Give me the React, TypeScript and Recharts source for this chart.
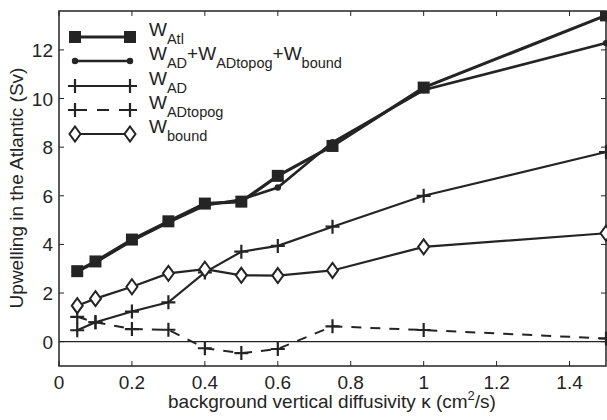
import React from "react";
import {
	Legend,
	Line,
	LineChart,
	ReferenceArea,
	ReferenceLine,
	XAxis,
	YAxis,
} from "recharts";

// values
const kappa = [0.05, 0.1, 0.2, 0.3, 0.4, 0.5, 0.6, 0.75, 1, 1.5];
const wAtl = [2.9, 3.3, 4.2, 4.95, 5.68, 5.76, 6.82, 8.05, 10.45, 13.42];
const wSum = [2.88, 3.25, 4.15, 4.9, 5.6, 5.85, 6.34, 8.2, 10.35, 12.28];
const wAD = [0.47, 0.8, 1.24, 1.62, 2.85, 3.7, 3.94, 4.73, 6.0, 7.8];
const wTopog = [1.02, 0.8, 0.52, 0.49, -0.27, -0.47, -0.3, 0.63, 0.48, 0.13];
const wBound = [1.48, 1.77, 2.26, 2.81, 2.98, 2.73, 2.72, 2.93, 3.9, 4.46];

const xTicks = [0, 0.2, 0.4, 0.6, 0.8, 1, 1.2, 1.4];
const yTicks = [0, 2, 4, 6, 8, 10, 12];

const data = kappa.map((k, i) => ({
	k,
	atl: wAtl[i],
	sum: wSum[i],
	ad: wAD[i],
	topog: wTopog[i],
	bound: wBound[i],
}));

const INK = "#242424";
const FONT = "'Liberation Sans', Arial, sans-serif";
const W = 607;
const H = 420;
const PLOT_LEFT = 59;
const PLOT_RIGHT = 606;
const PLOT_TOP = 11;
const PLOT_BOTTOM = 366;
const TICK = 5;

// marker shapes
const square = (cx: number, cy: number, key?: any) => (
	<rect key={key} x={cx - 6} y={cy - 6} width={12} height={12} fill={INK} />
);
const smallDot = (cx: number, cy: number, key?: any) => (
	<circle key={key} cx={cx} cy={cy} r={3.2} fill={INK} />
);
const plus = (cx: number, cy: number, key?: any) => (
	<path
		key={key}
		d={`M${cx - 7},${cy}H${cx + 7}M${cx},${cy - 7}V${cy + 7}`}
		stroke={INK}
		strokeWidth={2.2}
		fill="none"
	/>
);
const diamond = (cx: number, cy: number, key?: any) => (
	<path
		key={key}
		d={`M${cx},${cy - 7.5}L${cx + 5.5},${cy}L${cx},${cy + 7.5}L${cx - 5.5},${cy}Z`}
		stroke={INK}
		strokeWidth={2}
		fill="#fff"
	/>
);

const XTick = (props: any) => {
	const { x, payload } = props;
	return (
		<g>
			<line x1={x} x2={x} y1={PLOT_BOTTOM} y2={PLOT_BOTTOM - TICK} stroke={INK} />
			<line x1={x} x2={x} y1={PLOT_TOP} y2={PLOT_TOP + TICK} stroke={INK} />
			<text x={x} y={389} textAnchor="middle" fontSize={19} fontFamily={FONT} fill={INK}>
				{payload.value}
			</text>
		</g>
	);
};

const YTick = (props: any) => {
	const { y, payload } = props;
	return (
		<g>
			<line x1={PLOT_LEFT} x2={PLOT_LEFT + TICK} y1={y} y2={y} stroke={INK} />
			<line x1={PLOT_RIGHT} x2={PLOT_RIGHT - TICK} y1={y} y2={y} stroke={INK} />
			<text x={53} y={y + 7} textAnchor="end" fontSize={19} fontFamily={FONT} fill={INK}>
				{payload.value}
			</text>
		</g>
	);
};

// legend rows: sample line, marker, label
const legendRows = [
	{ marker: square, width: 3.2, dash: undefined, label: [["W", "Atl"]] },
	{
		marker: smallDot,
		width: 2.6,
		dash: undefined,
		label: [["W", "AD"], ["+W", "ADtopog"], ["+W", "bound"]],
	},
	{ marker: plus, width: 2.2, dash: undefined, label: [["W", "AD"]] },
	{ marker: plus, width: 2, dash: "12 10", label: [["W", "ADtopog"]] },
	{ marker: diamond, width: 2.2, dash: undefined, label: [["W", "bound"]] },
];
const rowY = [17, 41, 66, 90, 114];

const LegendBox = () => (
	<svg width={320} height={135} style={{ overflow: "visible" }}>
		{legendRows.map((r, i) => {
			const y = rowY[i];
			return (
				<g key={i}>
					<line x1={15} x2={70} y1={y} y2={y} stroke={INK} strokeWidth={r.width} strokeDasharray={r.dash} />
					{r.marker(15, y)}
					{r.marker(70, y)}
					<text x={89} y={y - 1} fontFamily={FONT} fill={INK} fontSize={19}>
						{r.label.map(([main, sub], j) => (
							<React.Fragment key={j}>
								<tspan dy={j === 0 ? 0 : -8} fontSize={19}>{main}</tspan>
								<tspan dy={8} fontSize={14.5}>{sub}</tspan>
							</React.Fragment>
						))}
					</text>
				</g>
			);
		})}
	</svg>
);

export default function App() {
	return (
		<div style={{ position: "absolute", left: 0, top: 0, width: W, height: H, background: "#fff" }}>
			<LineChart
				width={W}
				height={H}
				data={data}
				margin={{ top: PLOT_TOP, right: W - PLOT_RIGHT, left: 0, bottom: 0 }}
			>
				<XAxis
					dataKey="k"
					type="number"
					domain={[0, 1.5]}
					ticks={xTicks}
					height={H - PLOT_BOTTOM}
					tick={XTick}
					tickLine={false}
					axisLine={false}
					label={() => (
						<text x={332} y={408} textAnchor="middle" fontSize={19} fontFamily={FONT} fill={INK}>
							background vertical diffusivity κ (cm
							<tspan dy={-8} fontSize={13}>2</tspan>
							<tspan dy={8}>/s)</tspan>
						</text>
					)}
				/>
				<YAxis
					type="number"
					domain={[-1, 13.6]}
					ticks={yTicks}
					width={PLOT_LEFT}
					tick={YTick}
					tickLine={false}
					axisLine={false}
					allowDataOverflow
					label={() => (
						<text
							transform="translate(23,188) rotate(-90)"
							textAnchor="middle"
							fontSize={19}
							fontFamily={FONT}
							fill={INK}
						>
							Upwelling in the Atlantic (Sv)
						</text>
					)}
				/>
				<ReferenceArea x1={0} x2={1.5} y1={-1} y2={13.6} fill="none" stroke={INK} strokeWidth={1.5} />
				<ReferenceLine y={0} stroke={INK} strokeWidth={1.3} />
				<Line
					dataKey="atl"
					stroke={INK}
					strokeWidth={3.2}
					dot={(p: any) => square(p.cx, p.cy, p.index)}
					isAnimationActive={false}
				/>
				<Line
					dataKey="sum"
					stroke={INK}
					strokeWidth={2.6}
					dot={(p: any) => smallDot(p.cx, p.cy, p.index)}
					isAnimationActive={false}
				/>
				<Line
					dataKey="ad"
					stroke={INK}
					strokeWidth={2.2}
					dot={(p: any) => plus(p.cx, p.cy, p.index)}
					isAnimationActive={false}
				/>
				<Line
					dataKey="topog"
					stroke={INK}
					strokeWidth={2}
					strokeDasharray="10 9"
					dot={(p: any) => plus(p.cx, p.cy, p.index)}
					isAnimationActive={false}
				/>
				<Line
					dataKey="bound"
					stroke={INK}
					strokeWidth={2.2}
					dot={(p: any) => diamond(p.cx, p.cy, p.index)}
					isAnimationActive={false}
				/>
				<Legend
					layout="vertical"
					align="center"
					verticalAlign="middle"
					content={() => <LegendBox />}
					wrapperStyle={{ position: "absolute", left: 60, top: 20, width: 320, height: 135 }}
				/>
			</LineChart>
		</div>
	);
}
